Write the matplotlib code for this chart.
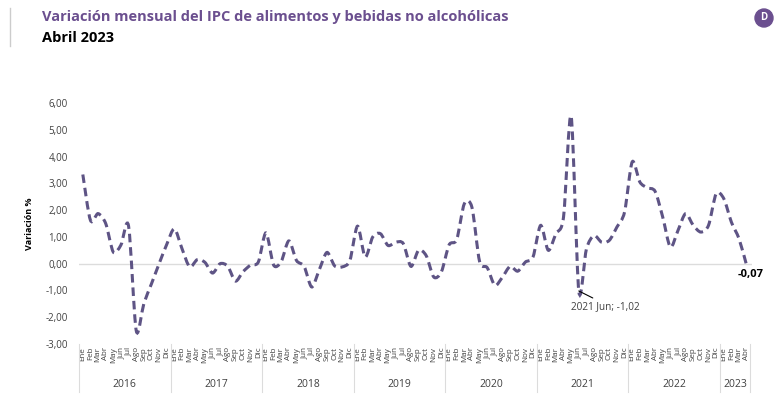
import numpy as np
import matplotlib
matplotlib.use("Agg")
import matplotlib.pyplot as plt
from matplotlib.path import Path
from matplotlib.patches import PathPatch, Circle
import matplotlib.transforms as mtransforms

plt.rcParams['font.family'] = ['Open Sans', 'DejaVu Sans']

# datos: variación mensual (%) ene-2016 .. abr-2023
years = ['2016', '2017', '2018', '2019', '2020', '2021', '2022', '2023']
months = ['Ene', 'Feb', 'Mar', 'Abr', 'May', 'Jun', 'Jul', 'Ago', 'Sep', 'Oct', 'Nov', 'Dic']
v2016 = [3.33, 1.62, 1.87, 1.50, 0.43, 0.70, 1.40, -2.50, -1.49, -0.75, 0.00, 0.72]
v2017 = [1.30, 0.56, -0.12, 0.15, 0.05, -0.35, 0.00, -0.10, -0.65, -0.30, -0.05, 0.06]
v2018 = [1.15, -0.05, 0.08, 0.85, 0.12, -0.10, -0.87, -0.22, 0.42, -0.08, -0.12, 0.12]
v2019 = [1.40, 0.25, 1.00, 1.12, 0.68, 0.80, 0.75, -0.10, 0.50, 0.30, -0.50, -0.30]
v2020 = [0.70, 0.90, 2.24, 2.10, 0.08, -0.15, -0.81, -0.50, -0.10, -0.28, 0.06, 0.25]
v2021 = [1.43, 0.50, 1.12, 1.74, 5.50, -1.02, 0.55, 1.05, 0.80, 0.87, 1.37, 1.93]
v2022 = [3.80, 3.05, 2.83, 2.70, 1.74, 0.62, 1.24, 1.87, 1.43, 1.18, 1.43, 2.61]
v2023 = [2.43, 1.55, 0.93, -0.07]
values = v2016 + v2017 + v2018 + v2019 + v2020 + v2021 + v2022 + v2023
n = len(values)
month_labels = [months[i % 12] for i in range(n)]

line_color = '#5e5485'
title_color = '#6b4f8f'

fig = plt.figure(figsize=(7.79, 3.99), dpi=100)
ax = fig.add_axes([79 / 779, 1 - 344 / 399, (752 - 79) / 779, (344 - 103) / 399])

# curva suavizada (Bezier) que pasa por los valores mensuales
x = np.arange(n, dtype=float)
y = np.array(values)
k = 1 / 7
verts = [(x[0], y[0])]
codes = [Path.MOVETO]
for i in range(n - 1):
    x0, y0 = (x[i - 1], y[i - 1]) if i > 0 else (x[i], y[i])
    x3, y3 = (x[i + 2], y[i + 2]) if i + 2 < n else (x[i + 1], y[i + 1])
    c1 = (x[i] + (x[i + 1] - x0) * k, y[i] + (y[i + 1] - y0) * k)
    c2 = (x[i + 1] - (x3 - x[i]) * k, y[i + 1] - (y3 - y[i]) * k)
    verts += [c1, c2, (x[i + 1], y[i + 1])]
    codes += [Path.CURVE4] * 3
ax.add_patch(PathPatch(Path(verts, codes), fill=False, edgecolor=line_color,
                       lw=2.2, linestyle=(0, (2.8, 1.6)), zorder=3))

ax.axhline(0, color='#dcdcdc', lw=1, zorder=1)
ax.set_xlim(-0.5, 87.7)
ax.set_ylim(-3, 6)
ax.set_yticks(np.arange(-3, 7, 1))
ax.set_yticklabels([f'{t:.2f}'.replace('.', ',') for t in np.arange(-3, 7, 1)],
                   fontsize=7, color='#404040')
ax.set_xticks(x)
ax.set_xticklabels(month_labels, rotation=90, fontsize=5.8, color='#404040')
ax.tick_params(axis='both', length=0)
ax.tick_params(axis='y', pad=8)
ax.tick_params(axis='x', pad=2)
for s in ax.spines.values():
    s.set_visible(False)
ax.set_ylabel('Variación %', fontsize=6.5, fontweight='bold', labelpad=8)

# separadores y etiquetas de año
trans = mtransforms.blended_transform_factory(ax.transData, ax.transAxes)
for j, yr in enumerate(years):
    start = j * 12 - 0.5
    end = min(start + 12, n - 0.5)
    ax.plot([start, start], [0, -0.2], transform=trans, color='#dcdcdc', lw=0.8, clip_on=False)
    ax.text((start + end) / 2, -0.17, yr, transform=trans, ha='center', va='center',
            fontsize=7.5, color='#404040')
ax.plot([n - 0.5, n - 0.5], [0, -0.2], transform=trans, color='#dcdcdc', lw=0.8, clip_on=False)

# anotaciones
ax.annotate('2021 Jun; -1,02', xy=(65, values[65]), xytext=(19, -11), textcoords='offset points',
            ha='center', va='center', fontsize=7.2, color='#404040',
            arrowprops=dict(arrowstyle='-', color='black', lw=0.8, shrinkA=0, shrinkB=0,
                            relpos=(0.4, 1.0)))
ax.annotate('-0,07', xy=(n - 1, values[-1]), xytext=(3, -6.5), textcoords='offset points',
            ha='center', va='center', fontsize=8, fontweight='bold', color='black')

# títulos
fig.text(42 / 779, 1 - 17 / 399, 'Variación mensual del IPC de alimentos y bebidas no alcohólicas',
         fontsize=10.5, fontweight='bold', color=title_color, va='center', ha='left')
fig.text(42 / 779, 1 - 38 / 399, 'Abril 2023', fontsize=10.5, fontweight='bold', color='black',
         va='center', ha='left')
fig.add_artist(plt.Line2D([10 / 779, 10 / 779], [1 - 8 / 399, 1 - 46 / 399], color='#cccccc', lw=1))
fig.add_artist(Circle((7.64, 3.81), 0.09, transform=fig.dpi_scale_trans, color=title_color))
fig.text(7.64 / 7.79, 3.81 / 3.99, 'D', color='white', fontsize=7, fontweight='bold',
         ha='center', va='center')

fig.savefig('out.png', dpi=100)
